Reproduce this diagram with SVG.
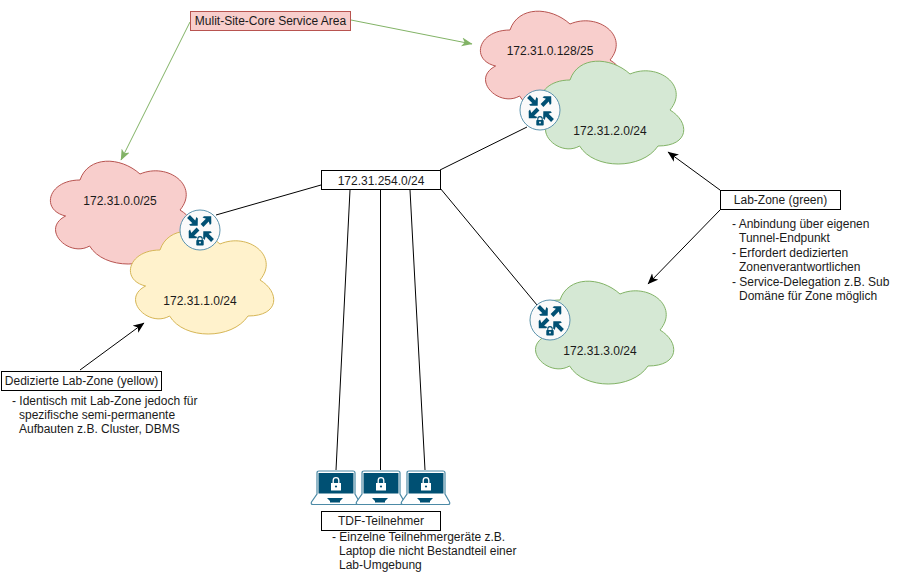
<svg xmlns="http://www.w3.org/2000/svg" width="921" height="572" viewBox="0 0 921 572">
<style>
text{font-family:"Liberation Sans",Arial,sans-serif;font-size:12px;fill:#1a1a1a}
.c{text-anchor:middle}
.box{fill:#fff;stroke:#000;stroke-width:1}
.k{stroke:#000;stroke-width:1;fill:none}
.ka{stroke:#000;stroke-width:1;fill:none;marker-end:url(#ab)}
.ga{stroke:#82b366;stroke-width:1;fill:none;marker-end:url(#ag)}
.red{fill:#f8cecc;stroke:#b85450}
.grn{fill:#d5e8d4;stroke:#82b366}
.yel{fill:#fff2cc;stroke:#d6b656}
.rt{fill:#fafafa;stroke:#5b93ad;stroke-width:1}
.ar{fill:#005073}
.lap{fill:#fff;stroke:#4c8aa6;stroke-width:1.2}
</style>
<defs>
<marker id="ab" markerWidth="12" markerHeight="10" refX="10.500" refY="5" orient="auto" markerUnits="userSpaceOnUse"><path d="M0 0.500L11 5L0 9.500L3 5Z" fill="#000"/></marker>
<marker id="ag" markerWidth="12" markerHeight="10" refX="10.500" refY="5" orient="auto" markerUnits="userSpaceOnUse"><path d="M0 0.500L11 5L0 9.500L3 5Z" fill="#82b366"/></marker>
<path id="cloud" d="M40 30C8 30 0 60 25.600 66C0 79.2 28.800 108 49.600 96C64 120 112 120 128 96C160 96 160 72 140 60C160 36 128 12 100 24C80 6 48 6 40 30Z"/>
<path id="arrow" d="M0 -2H7.500L6 -5.200H8L13 0L8 5.200H6L7.500 2H0Z"/>
<g id="router">
<circle r="20" class="rt"/>
<g class="ar">
<use href="#arrow" transform="translate(-11.500 -13.500) rotate(45)"/>
<use href="#arrow" transform="translate(2 -4.500) rotate(-45)"/>
<use href="#arrow" transform="translate(-2 -1) rotate(135)"/>
<use href="#arrow" transform="translate(12.500 10.500) rotate(-135)"/>
<rect x="-3.700" y="10" width="7.400" height="5.500" rx="0.800"/>
<path d="M-2.200 10V8.800A2.200 2.200 0 0 1 2.200 8.800V10" fill="none" stroke="#005073" stroke-width="1.100"/>
<circle cy="12.500" r="0.900" fill="#fff"/>
</g>
</g>
<g id="laptop">
<path class="lap" d="M9 1H43Q45 1 45 3V24L49.500 32Q50.500 34.500 48 34.500H3Q0.500 34.500 1.500 32L7 24V3Q7 1 9 1Z"/>
<rect x="8.500" y="3" width="35" height="20.500" fill="#005073"/>
<path d="M17 28H33L30 31V32.500H20V31Z" fill="#005073"/>
<rect x="21" y="13" width="10" height="7.500" fill="#fff"/>
<path d="M23.200 13V10.500A2.800 2.800 0 0 1 28.800 10.500V13" fill="none" stroke="#fff" stroke-width="1.300"/>
<circle cx="26" cy="16.500" r="1.100" fill="#005073"/>
</g>
</defs>

<g id="connectors">
<path class="k" d="M216 215L321 185"/>
<path class="k" d="M440 170L527 127"/>
<path class="k" d="M440 188L537 305"/>
<path class="k" d="M350 190L336 470"/>
<path class="k" d="M380.500 190V470"/>
<path class="k" d="M410 190L425 470"/>
<path class="ga" d="M190 22L121 160"/>
<path class="ga" d="M351 20L472 44"/>
<path class="ka" d="M720 190L668 152"/>
<path class="ka" d="M720 210L648 284"/>
<path class="ka" d="M80 370L144 323"/>
</g>

<g id="cloud-red-1"><use href="#cloud" x="40" y="150" class="red"/><text class="c" x="120" y="205">172.31.0.0/25</text></g>
<g id="cloud-yellow"><use href="#cloud" x="120" y="220" class="yel"/><text class="c" x="200" y="305">172.31.1.0/24</text></g>
<g id="cloud-red-2"><use href="#cloud" x="470" y="0" class="red"/><text class="c" x="550" y="55">172.31.0.128/25</text></g>
<g id="cloud-green-1"><use href="#cloud" x="530" y="50" class="grn"/><text class="c" x="610" y="135">172.31.2.0/24</text></g>
<g id="cloud-green-2"><use href="#cloud" x="520" y="270" class="grn"/><text class="c" x="600" y="355">172.31.3.0/24</text></g>

<g id="router-1"><use href="#router" x="200" y="230"/></g>
<g id="router-2"><use href="#router" x="540" y="110"/></g>
<g id="router-3"><use href="#router" x="550" y="320"/></g>

<g id="laptop-1"><use href="#laptop" x="310" y="470"/></g>
<g id="laptop-2"><use href="#laptop" x="355" y="470"/></g>
<g id="laptop-3"><use href="#laptop" x="400" y="470"/></g>

<g id="service-area"><rect x="190.500" y="11.500" width="160" height="19" fill="#f8cecc" stroke="#b85450"/><text class="c" x="270.500" y="25">Mulit-Site-Core Service Area</text></g>
<g id="subnet"><rect class="box" x="321.500" y="170.500" width="119" height="19"/><text class="c" x="381" y="185">172.31.254.0/24</text></g>

<g id="lab-zone"><rect class="box" x="720.500" y="190.500" width="120" height="19"/><text class="c" x="780.500" y="204">Lab-Zone (green)</text>
<text x="732" y="228">- Anbindung über eigenen</text>
<text x="739" y="242">Tunnel-Endpunkt</text>
<text x="732" y="257">- Erfordert dedizierten</text>
<text x="739" y="271">Zonenverantwortlichen</text>
<text x="732" y="286">- Service-Delegation z.B. Sub</text>
<text x="739" y="300">Domäne für Zone möglich</text></g>

<g id="dedicated-zone"><rect class="box" x="1.500" y="371.500" width="160" height="19"/><text class="c" x="81.500" y="385">Dedizierte Lab-Zone (yellow)</text>
<text x="12" y="405">- Identisch mit Lab-Zone jedoch für</text>
<text x="19" y="419">spezifische semi-permanente</text>
<text x="19" y="433">Aufbauten z.B. Cluster, DBMS</text></g>

<g id="tdf"><rect class="box" x="321.500" y="511.500" width="119" height="19"/><text class="c" x="381" y="525">TDF-Teilnehmer</text>
<text x="332" y="541">- Einzelne Teilnehmergeräte z.B.</text>
<text x="339" y="555">Laptop die nicht Bestandteil einer</text>
<text x="339" y="569">Lab-Umgebung</text></g>
</svg>
